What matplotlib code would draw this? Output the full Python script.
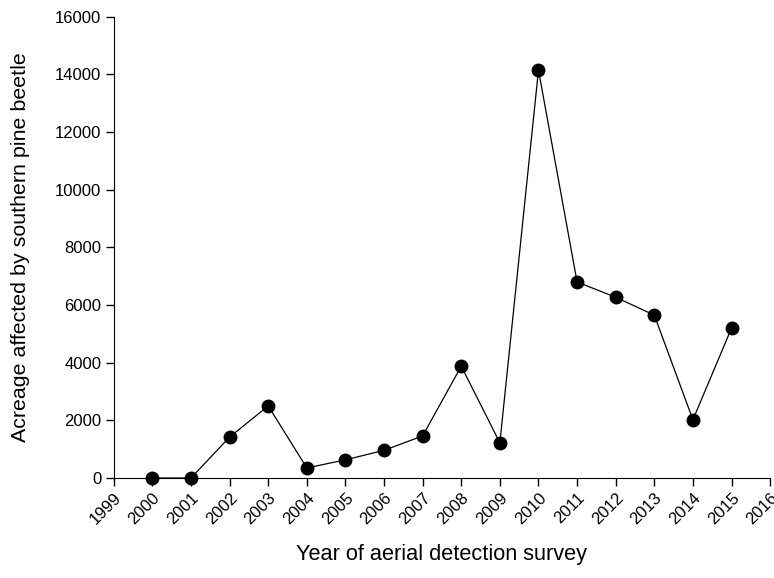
import numpy as np
import matplotlib.pyplot as plt

plt.rcParams['font.family'] = ['Liberation Sans', 'DejaVu Sans']

years = [2000, 2001, 2002, 2003, 2004, 2005, 2006, 2007,
         2008, 2009, 2010, 2011, 2012, 2013, 2014, 2015]
acres = [0, 0, 1420, 2500, 350, 630, 960, 1460,
         3880, 1220, 14150, 6800, 6270, 5650, 2020, 5200]

fig = plt.figure(figsize=(7.74, 5.78), dpi=100)
ax = fig.add_axes([0.147, 0.173, 0.848, 0.798])

ax.plot(years, acres, color='black', lw=0.9, marker='o', ms=9, mfc='black', mec='black', clip_on=False)

ax.set_xlim(1999, 2016)
ax.set_ylim(0, 16000)
ax.set_xticks(np.arange(1999, 2017))
ax.set_xticklabels([str(y) for y in range(1999, 2017)], rotation=45, ha='right', rotation_mode='anchor')
ax.set_yticks(np.arange(0, 16001, 2000))

ax.spines['top'].set_visible(False)
ax.spines['right'].set_visible(False)
ax.tick_params(direction='out', length=5.5, width=1, labelsize=12)

ax.set_xlabel('Year of aerial detection survey', fontsize=15.7, labelpad=12)
ax.set_ylabel('Acreage affected by southern pine beetle', fontsize=15.4, labelpad=18)

plt.savefig('out.png', dpi=100)
